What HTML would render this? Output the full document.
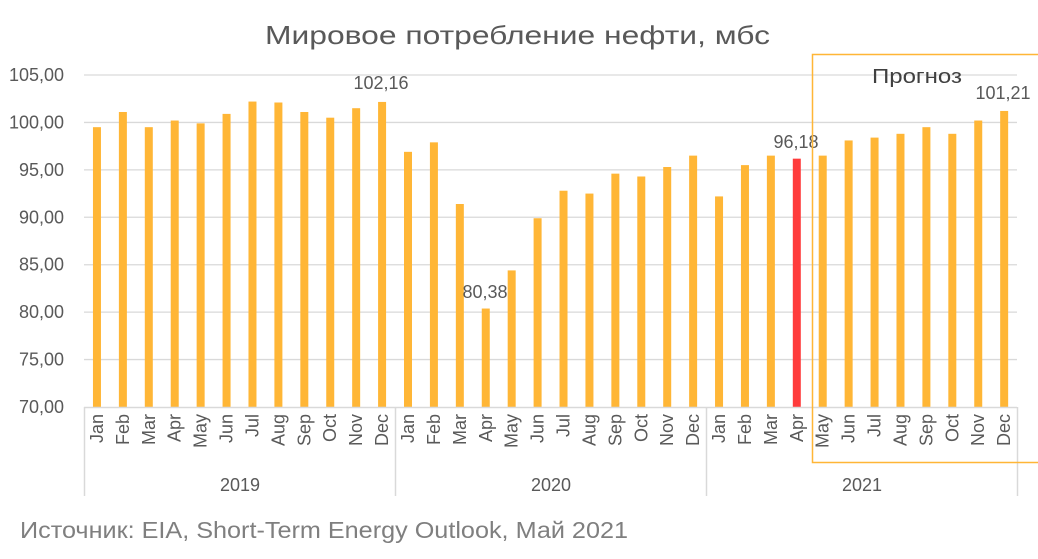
<!DOCTYPE html>
<html><head><meta charset="utf-8"><style>
body{margin:0;background:#fff}
svg{display:block;font-family:"Liberation Sans","DejaVu Sans",sans-serif}
</style></head><body>
<svg width="1038" height="559" viewBox="0 0 1038 559">
<rect width="1038" height="559" fill="#fff"/>
<text x="265" y="44" font-size="26" fill="#595959" textLength="505" lengthAdjust="spacingAndGlyphs">Мировое потребление нефти, мбс</text>
<g id="grid" stroke="#d9d9d9" stroke-width="1.3"></g>
<g id="ylab" font-size="18" fill="#595959" text-anchor="end"></g>
<g id="bars"></g>
<g id="xlab" font-size="18" fill="#595959"></g>
<g stroke="#d9d9d9" stroke-width="1.5">
<line x1="84" y1="407.5" x2="1017" y2="407.5"/>
<line x1="84.5" y1="407" x2="84.5" y2="496"/>
<line x1="395.5" y1="407" x2="395.5" y2="496"/>
<line x1="706.5" y1="407" x2="706.5" y2="496"/>
<line x1="1017.5" y1="407" x2="1017.5" y2="496"/>
</g>
<g font-size="18" fill="#595959" text-anchor="middle">
<text x="240" y="491">2019</text><text x="551" y="491">2020</text><text x="862" y="491">2021</text>
</g>
<g font-size="18" fill="#595959" text-anchor="middle">
<text x="381" y="89">102,16</text>
<text x="485" y="298">80,38</text>
<text x="796" y="148">96,18</text>
<text x="1003" y="99">101,21</text>
</g>
<text x="872" y="83" font-size="20" fill="#404040" textLength="90" lengthAdjust="spacingAndGlyphs">Прогноз</text>
<rect x="812.5" y="54.5" width="240" height="408" fill="none" stroke="#FFB636" stroke-width="1.5"/>
<text x="20" y="538" font-size="23" fill="#7f7f7f" textLength="608" lengthAdjust="spacingAndGlyphs">Источник: EIA, Short-Term Energy Outlook, Май 2021</text>
</svg>
<script>
const ns="http://www.w3.org/2000/svg";
function el(p,t,a,txt){const e=document.createElementNS(ns,t);for(const k in a)e.setAttribute(k,a[k]);if(txt)e.textContent=txt;document.getElementById(p).appendChild(e);}
const y0=407,s=332/35;
for(let v=70;v<=105;v+=5){const y=y0-(v-70)*s;if(v>70)el("grid","line",{x1:84,x2:1017,y1:y,y2:y});el("ylab","text",{x:64,y:y+6},v+",00");}
const vals=[99.5,101.1,99.5,100.2,99.9,100.9,102.2,102.1,101.1,100.5,101.5,102.16,96.9,97.9,91.4,80.38,84.4,89.9,92.8,92.5,94.6,94.3,95.3,96.5,92.2,95.5,96.5,96.18,96.5,98.1,98.4,98.8,99.5,98.8,100.2,101.21];
const m=["Jan","Feb","Mar","Apr","May","Jun","Jul","Aug","Sep","Oct","Nov","Dec"];
vals.forEach((v,i)=>{const cx=84+(i+0.5)*25.92;const h=(v-70)*s;
el("bars","rect",{x:cx-4,y:y0-h,width:8,height:h,fill:i==27?"#FF3B3B":"#FFB636"});
el("xlab","text",{x:0,y:0,transform:`translate(${cx+6},414) rotate(-90)`,"text-anchor":"end"},m[i%12]);});
</script>
</body></html>
